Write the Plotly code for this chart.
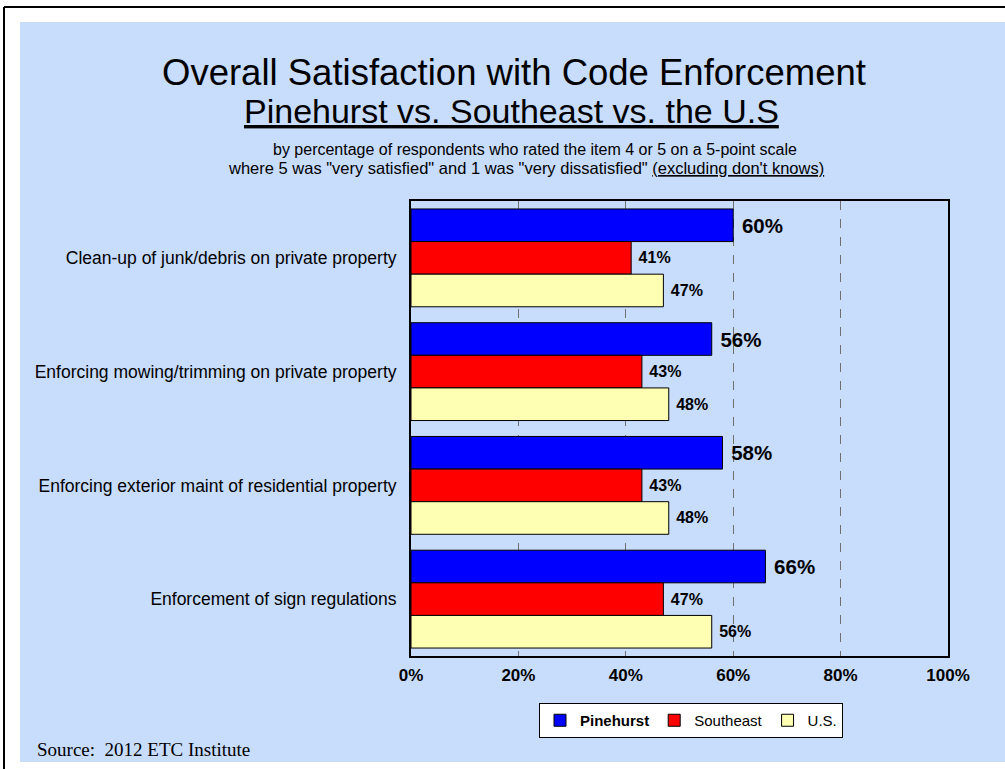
import plotly.graph_objects as go

# Datos
categorias = [
    "Clean-up of junk/debris on private property",
    "Enforcing mowing/trimming on private property",
    "Enforcing exterior maint of residential property",
    "Enforcement of sign regulations",
]
pinehurst = [60, 56, 58, 66]
southeast = [41, 43, 43, 47]
us = [47, 48, 48, 56]

BG = "#c8dcfc"
FONT = "Liberation Sans, Arial, sans-serif"

W, H = 1005, 769
L, R, T, B = 411, 948, 201, 656  # área de trazado en px


def px(x):
    return (x - L) / (R - L)


def py(y):
    return (B - y) / (B - T)


fig = go.Figure()
series = [
    ("<b>Pinehurst</b>", pinehurst, "#0000ff", 20.5),
    ("Southeast", southeast, "#ff0000", 16),
    ("U.S.", us, "#ffffb4", 16),
]
for nombre, vals, color, fsize in series:
    fig.add_trace(go.Bar(
        y=categorias, x=vals, name=nombre, orientation="h",
        marker=dict(color=color, line=dict(color="#000000", width=1)),
        text=[f" {v}%" for v in vals], textposition="outside",
        textfont=dict(family=FONT, size=fsize, color="#000000", weight="bold"),
        cliponaxis=False, constraintext="none",
    ))

# fondo azul y marco
fig.add_shape(type="rect", xref="paper", yref="paper", layer="below",
              x0=px(20), x1=px(1005), y0=py(762), y1=py(22),
              fillcolor=BG, line_width=0)
fig.add_shape(type="line", xref="paper", yref="paper",
              x0=px(4), x1=px(1005), y0=py(7), y1=py(7),
              line=dict(color="#000000", width=2))
fig.add_shape(type="line", xref="paper", yref="paper",
              x0=px(4), x1=px(4), y0=py(7), y1=py(769),
              line=dict(color="#000000", width=2))

textos = [
    ("Overall Satisfaction with Code Enforcement", 514, 73, 36.5),
    ("<u>Pinehurst vs. Southeast vs. the U.S</u>", 511, 111, 34),
    ("by percentage of respondents who rated the item 4 or 5 on a 5-point scale",
     535, 149, 16),
    ("where 5 was \"very satisfied\" and 1 was \"very dissatisfied\" "
     "<u>(excluding don't knows)</u>", 526, 168, 16.5),
]
for txt, x, y, size in textos:
    fig.add_annotation(text=txt, xref="paper", yref="paper", x=px(x), y=py(y),
                       xanchor="center", yanchor="middle", showarrow=False,
                       font=dict(family=FONT, size=size, color="#000000"))
fig.add_annotation(text="Source:  2012 ETC Institute", xref="paper", yref="paper",
                   x=px(35), y=py(749), xanchor="left", yanchor="middle",
                   showarrow=False,
                   font=dict(family="Liberation Serif, Times New Roman, serif",
                             size=19, color="#000000"))

fig.update_layout(
    width=W, height=H,
    margin=dict(l=L, r=W - R, t=T, b=H - B, pad=0),
    paper_bgcolor="#ffffff", plot_bgcolor="#ffffff",
    barmode="group", bargap=0.14, bargroupgap=0,
    showlegend=True,
    legend=dict(orientation="h", x=px(691), xanchor="center", y=py(703),
                yanchor="top", bgcolor="#ffffff", bordercolor="#000000",
                borderwidth=1, font=dict(family=FONT, size=15, color="#000000"),
                itemwidth=30, traceorder="normal"),
    font=dict(family=FONT, color="#000000"),
)
fig.update_xaxes(range=[0, 100], dtick=20, ticksuffix="%", showgrid=True,
                 gridcolor="#707070", griddash="dash", gridwidth=1,
                 zeroline=False, showline=True, mirror=True, linecolor="#000000",
                 linewidth=2, ticks="", ticklabelstandoff=3,
                 tickfont=dict(family=FONT, size=17, color="#000000", weight="bold"))
fig.update_yaxes(autorange="reversed", showgrid=False, zeroline=False,
                 showline=True, mirror=True, linecolor="#000000", linewidth=2,
                 ticks="", ticklabelstandoff=9,
                 tickfont=dict(family=FONT, size=17.5, color="#000000"))

# sin margen del body para que la figura quede en (0, 0)
fig.write_html("out.html", config={"displayModeBar": False},
               post_script="document.body.style.margin='0';")
